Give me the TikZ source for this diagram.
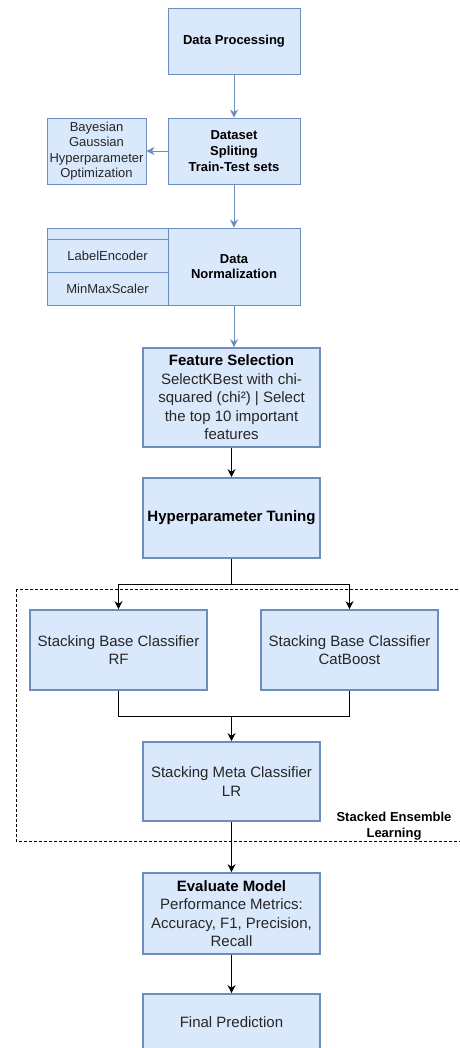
\documentclass[tikz,border=0pt]{standalone}
\usepackage{fontspec}
\setmainfont{Liberation Sans}
\usetikzlibrary{arrows.meta, positioning}
\definecolor{boxfill}{HTML}{DAE8FC}
\definecolor{boxline}{HTML}{6C8EBF}
\tikzset{
    topbox/.style={
        rectangle, draw=boxline, line width=0.9pt,
        minimum width=132pt, minimum height=66pt,
        fill=boxfill, align=center, inner sep=1pt,
        font=\fontsize{13}{15.6}\selectfont\bfseries
    },
    sidebox/.style={
        rectangle, draw=boxline, line width=0.9pt,
        fill=boxfill, align=center, inner sep=1pt,
        text=black!85,
        font=\fontsize{13}{15.4}\selectfont
    },
    stage/.style={
        rectangle, draw=boxline, line width=1.6pt,
        minimum width=177pt, minimum height=80pt,
        fill=boxfill, align=center, inner sep=1pt,
        text=black!85,
        font=\fontsize{15}{18.5}\selectfont
    },
    bluewire/.style={draw=boxline, line width=0.9pt, -{Stealth[length=8pt, width=8pt, inset=2.5pt]}},
    wire/.style={draw=black, line width=0.9pt, -{Stealth[length=8pt, width=8pt, inset=2.5pt]}},
    line/.style={draw=black, line width=0.9pt},
    frame/.style={draw=black, line width=0.7pt, dash pattern=on 3pt off 2pt},
    framelabel/.style={align=center, font=\fontsize{13}{15.6}\selectfont\bfseries}
}
\begin{document}
\begin{tikzpicture}[x=1pt, y=-1pt]
\useasboundingbox (0,0) rectangle (459,1048);

% Ensemble frame (runs off the right edge)
\draw[frame] (16,589) rectangle (480,841);
\node[framelabel] (elabel) at (394,826) {Stacked Ensemble\\Learning};

% Preprocessing
\node[topbox] (proc) at (234,41) {Data Processing};
\node[topbox] (split) at (234,151) {Dataset\\Spliting\\Train-Test sets};
\node[sidebox, minimum width=99pt, minimum height=66pt] (bayes) at (96.5,151) {Bayesian\\Gaussian\\Hyperparameter\\Optimization};
\node[topbox, minimum height=77pt] (norm) at (234,266.5) {Data\\Normalization};
\node[sidebox, minimum width=121pt, minimum height=11pt] (strip) at (107.5,233.5) {};
\node[sidebox, minimum width=121pt, minimum height=33pt] (lenc) at (107.5,255.5) {LabelEncoder};
\node[sidebox, minimum width=121pt, minimum height=33pt] (mmsc) at (107.5,288.5) {MinMaxScaler};

% Selection and tuning
\node[stage, minimum height=99pt] (feat) at (231.5,397.5) {\textbf{\color{black}Feature Selection}\\SelectKBest with chi-\\squared (chi²) | Select\\the top 10 important\\features};
\node[stage, text=black] (hyper) at (231.5,518) {\bfseries Hyperparameter Tuning};

% Stacking
\node[stage] (rf) at (118.5,650) {Stacking Base Classifier\\RF};
\node[stage] (cat) at (349.5,650) {Stacking Base Classifier\\CatBoost};
\node[stage, minimum height=79pt] (meta) at (231.5,781.5) {Stacking Meta Classifier\\LR};

% Evaluation
\node[stage, minimum height=81pt] (eval) at (231.5,913.5) {\textbf{\color{black}Evaluate Model}\\Performance Metrics:\\Accuracy, F1, Precision,\\Recall};
\node[stage, minimum height=56pt] (final) at (231.5,1022) {Final Prediction};

% Connections
\draw[bluewire] (proc) -- (split);
\draw[bluewire] (split) -- (bayes);
\draw[bluewire] (split) -- (norm);
\draw[bluewire] (norm.south) -- (norm.south |- feat.north);
\draw[wire] (feat) -- (hyper);

\coordinate (fork) at (231.5,584);
\draw[line] (hyper) -- (fork);
\draw[wire] (fork) -| (rf);
\draw[wire] (fork) -| (cat);

\coordinate (join) at (231.5,716);
\draw[line] (rf) |- (join);
\draw[line] (cat) |- (join);
\draw[wire] (join) -- (meta);

\draw[wire] (meta) -- (eval);
\draw[wire] (eval) -- (final);

\end{tikzpicture}
\end{document}
